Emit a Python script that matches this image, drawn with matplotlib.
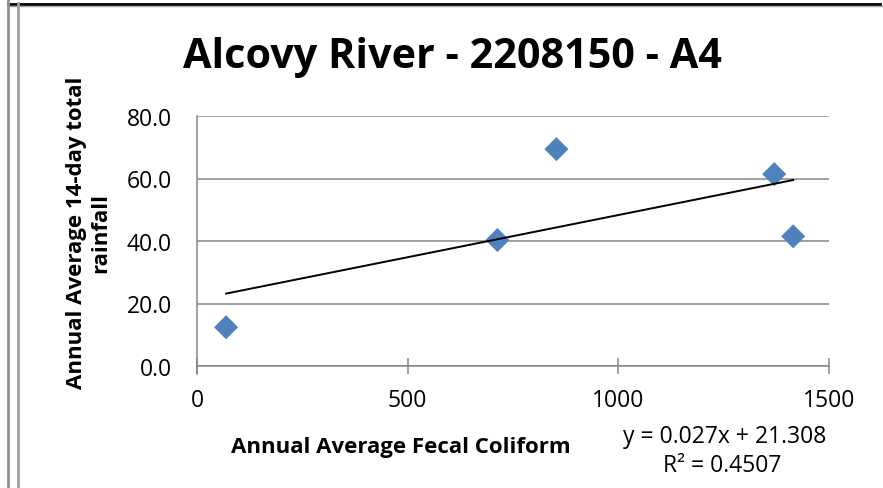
import numpy as np
import matplotlib
matplotlib.use("Agg")
import matplotlib.pyplot as plt
from matplotlib.lines import Line2D

# Annual averages per year at the station
fecal_coliform = [69, 713, 853, 1370, 1415]
rainfall_14day = [12.4, 40.3, 69.4, 61.4, 41.5]

# Linear trend line coefficients as reported
slope = 0.027
intercept = 21.308
r_squared = 0.4507

x_ticks = [0, 500, 1000, 1500]
y_ticks = [0, 20, 40, 60, 80]

title = "Alcovy River - 2208150 - A4"
x_label = "Annual Average Fecal Coliform"
y_label = "Annual Average 14-day total\nrainfall"

plt.rcParams["font.family"] = ["Open Sans", "DejaVu Sans"]

W, H = 883, 489
fig = plt.figure(figsize=(W / 100, H / 100), dpi=100)
fig.patch.set_facecolor("white")

# Plot area in pixel coordinates
left, right, top, bottom = 197, 829, 117, 367
ax = fig.add_axes([left / W, 1 - bottom / H, (right - left) / W, (bottom - top) / H])

grid_color = "#868686"
ax.set_xlim(0, 1500)
ax.set_ylim(0, 80)
ax.set_yticks(y_ticks)
ax.set_yticklabels([f"{v:.1f}" for v in y_ticks])
ax.set_xticks(x_ticks)
ax.set_xticklabels([str(v) for v in x_ticks])

ax.grid(axis="y", color=grid_color, linewidth=1.1)
ax.set_axisbelow(True)
for side in ("top", "right"):
    ax.spines[side].set_visible(False)
for side in ("left", "bottom"):
    ax.spines[side].set_color(grid_color)
    ax.spines[side].set_linewidth(1.1)
ax.spines["left"].set_bounds(-2.5, 80)

ax.tick_params(axis="y", length=0, pad=18, labelsize=16.5, colors="black")
ax.tick_params(axis="x", direction="inout", length=12, width=1.1, color=grid_color,
               pad=10, labelsize=16.5, labelcolor="black")

ax.scatter(fecal_coliform, rainfall_14day, marker="D", s=150, color="#4F81BD",
           edgecolors="none", zorder=3, clip_on=False)

xs = np.array([min(fecal_coliform), max(fecal_coliform)])
ax.plot(xs, slope * xs + intercept, color="black", linewidth=1.4, zorder=4)

# Text elements
fig.text(452 / W, 1 - 58 / H, title, ha="center", va="center",
         fontsize=29.8, fontweight="bold")
fig.text(401 / W, 1 - 447 / H, x_label, ha="center", va="center",
         fontsize=16, fontweight="bold")
fig.text(89 / W, 1 - 233 / H, y_label, ha="center", va="center",
         fontsize=16, fontweight="bold", rotation=90, linespacing=1.2,
         multialignment="center")
fig.text(725 / W, 1 - 437 / H, f"y = {slope}x + {intercept}", ha="center",
         va="center", fontsize=16.5)
fig.text(722 / W, 1 - 466 / H, f"R² = {r_squared}", ha="center", va="center",
         fontsize=16.5)

# Surrounding frame lines
frame = [
    ((8, 880), (4.5, 4.5), "black", 2.0),
    ((8, 883), (6.5, 6.5), "#A0A0A0", 1.0),
    ((8, 8), (0, 489), "#909090", 2.0),
    ((17.5, 17.5), (4, 489), "#A0A0A0", 2.0),
]
for xx, yy, c, lw in frame:
    fig.add_artist(Line2D([x / W for x in xx], [1 - y / H for y in yy],
                          color=c, linewidth=lw, transform=fig.transFigure))

fig.savefig("out.png", dpi=100)
